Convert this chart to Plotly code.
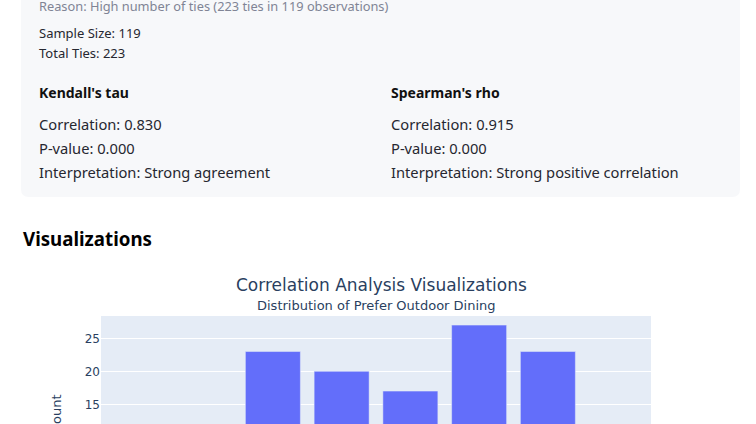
import plotly.graph_objects as go

W, H = 756, 424

# ---- data ----
categories = [1, 2, 3, 4, 5, 6, 7, 8]
counts = [2, 4, 23, 20, 17, 27, 23, 3]
y_ticks = [15, 20, 25]

reason_text = "Reason: High number of ties (223 ties in 119 observations)"
sample_lines = ["Sample Size: 119", "Total Ties: 223"]
methods = ["Kendall's tau", "Spearman's rho"]
correlations = ["0.830", "0.915"]
p_values = ["0.000", "0.000"]
interpretations = ["Strong agreement", "Strong positive correlation"]
chart_title = "Correlation Analysis Visualizations"
sub_title = "Distribution of Prefer Outdoor Dining"


def px(x):
    return x / W


def py(y):
    return 1 - y / H


fig = go.Figure()
fig.add_trace(go.Bar(x=categories, y=counts, marker_color="#636efa",
                     marker_line=dict(color="#E5ECF6", width=0.5),
                     showlegend=False))

UI = "Noto Sans, Segoe UI, sans-serif"
CH = "DejaVu Sans, Verdana, sans-serif"
ann = []


def txt(x, y, s, size, color="#262730", bold=False, family=UI, xanchor="left"):
    ann.append(dict(x=px(x), y=py(y), xref="paper", yref="paper",
                    text=f"<b>{s}</b>" if bold else s, showarrow=False,
                    xanchor=xanchor, yanchor="middle",
                    font=dict(size=size, color=color, family=family)))


txt(37, 6, reason_text, 12.8, color="#808495")
txt(37, 33, sample_lines[0], 13)
txt(37, 53, sample_lines[1], 13)
for i, xo in enumerate([37, 389]):
    txt(xo, 92, methods[i], 14, bold=True, color="#111111")
    txt(xo, 124, f"Correlation: {correlations[i]}", 14.7)
    txt(xo, 148, f"P-value: {p_values[i]}", 14.7)
    txt(xo, 172, f"Interpretation: {interpretations[i]}", 14.7)
txt(21, 238, "Visualizations", 18.7, bold=True, color="#000000")
txt(381, 285, chart_title, 17, color="#2a3f5f", family=CH, xanchor="center")
txt(376, 305, sub_title, 13, color="#2a3f5f", family=CH, xanchor="center")
ann.append(dict(x=px(56), y=py(414), xref="paper", yref="paper", text="Count",
                showarrow=False, textangle=-90, xanchor="center", yanchor="middle",
                font=dict(size=13, color="#2a3f5f", family=CH)))

# grey info box with rounded bottom corners
x0, x1, yb, r = px(21), px(740), py(197), 8
fig.add_shape(type="path", xref="paper", yref="paper",
              path=(f"M {x0},1.05 L {x0},{py(197 - r)} Q {x0},{yb} {px(21 + r)},{yb} "
                    f"L {px(740 - r)},{yb} Q {x1},{yb} {x1},{py(197 - r)} L {x1},1.05 Z"),
              fillcolor="#f7f8fa", line=dict(width=0), layer="below")

fig.update_layout(
    width=W, height=H, margin=dict(l=0, r=0, t=0, b=0),
    paper_bgcolor="white", plot_bgcolor="#E5ECF6",
    annotations=ann, bargap=0.2,
    xaxis=dict(domain=[px(101), px(651)], range=[0.5, 8.5], showticklabels=False,
               showgrid=False, zeroline=False),
    yaxis=dict(domain=[0, py(316)], range=[12.02, 28.38], tickvals=y_ticks,
               gridcolor="white", zeroline=False,
               tickfont=dict(size=12, color="#2a3f5f", family=CH)),
    font=dict(family=CH),
)

fig.write_html("out.html", config={"displayModeBar": False},
               post_script="document.body.style.margin='0';document.body.style.overflow='hidden';")
